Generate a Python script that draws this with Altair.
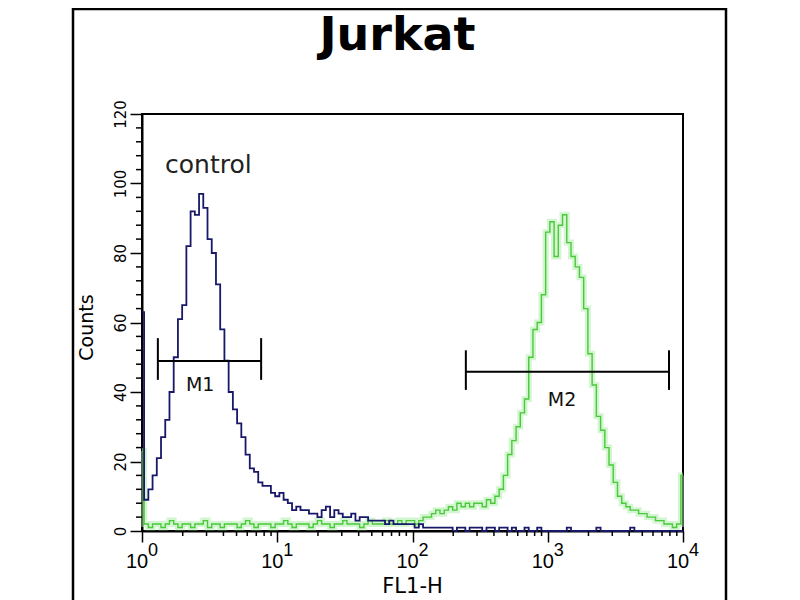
import numpy as np
import pandas as pd
import altair as alt

# FL1-H channels: 129 channels over four log decades (32 per decade)
channels = np.arange(129)
fl1_values = 10 ** (channels / 32)

control_counts = [
    63, 9, 12, 16, 21, 27, 32, 40, 50, 61,
    65, 82, 92, 91, 97, 93, 84, 80, 71, 58,
    49, 40, 35, 31, 27, 22, 18, 17, 14, 13,
    13, 11, 10, 11, 9, 8, 6, 7, 6, 6,
    5, 5, 4, 6, 7, 4, 6, 5, 4, 4,
    5, 3, 4, 4, 3, 3, 3, 3, 2, 3,
    2, 2, 2, 2, 2, 1, 2, 1, 1, 1,
    1, 1, 1, 1, 0, 1, 1, 0, 1, 1,
    1, 0, 1, 1, 0, 1, 1, 0, 1, 0,
    0, 1, 0, 0, 1, 0, 0, 0, 0, 0,
    0, 1, 0, 0, 0, 0, 0, 0, 1, 0,
    0, 0, 0, 0, 0, 0, 1, 0, 0, 0,
    0, 0, 0, 0, 0, 0, 0, 0, 0,
]

sample_counts = [
    23, 2, 1, 2, 2, 1, 2, 3, 2, 1,
    2, 2, 1, 2, 2, 3, 1, 2, 2, 1,
    2, 2, 2, 1, 2, 3, 2, 1, 2, 2,
    2, 1, 2, 2, 3, 2, 1, 2, 2, 2,
    1, 2, 3, 2, 2, 1, 2, 2, 3, 2,
    2, 2, 1, 2, 3, 2, 2, 2, 3, 2,
    2, 3, 2, 3, 3, 2, 3, 4, 4, 5,
    6, 5, 6, 7, 6, 8, 7, 8, 7, 8,
    8, 7, 9, 8, 10, 12, 16, 22, 26, 30,
    34, 38, 50, 58, 60, 68, 86, 89, 79, 88,
    91, 83, 79, 76, 73, 64, 51, 42, 33, 29,
    24, 19, 14, 10, 8, 7, 6, 6, 5, 5,
    4, 4, 3, 3, 2, 2, 1, 2, 16,
]

decades = [1, 10, 100, 1000, 10000]
decade_exponents = ['0', '1', '2', '3', '4']
x_minor_ticks = [m * d for d in decades[:-1] for m in range(2, 10)]
y_major_ticks = [0, 20, 40, 60, 80, 100, 120]
y_minor_ticks = [4, 8, 12, 16, 24, 28, 32, 36, 44, 48, 52, 56,
                 64, 68, 72, 76, 84, 88, 92, 96, 104, 108, 112, 116]

gate_names = ['M1', 'M2']
gate_lo = [1.31, 248]
gate_hi = [7.6, 7880]
gate_level = [48.9, 45.8]
gate_bar_lo = [43.5, 40.6]
gate_bar_hi = [55.5, 52.0]
gate_label_x = [2.69, 1275]
gate_label_y = [42.0, 37.7]

control_label = 'control'
control_label_x = 1.48
control_label_y = 103

hist = pd.DataFrame({'fl1': fl1_values, 'control': control_counts, 'sample': sample_counts})
gates = pd.DataFrame({'name': gate_names, 'lo': gate_lo, 'hi': gate_hi, 'level': gate_level,
                      'label_x': gate_label_x, 'label_y': gate_label_y})
gate_edges = pd.DataFrame({'fl1': gate_lo + gate_hi,
                           'bar_lo': gate_bar_lo + gate_bar_lo,
                           'bar_hi': gate_bar_hi + gate_bar_hi})
decade_df = pd.DataFrame({'fl1': decades, 'exp': decade_exponents})
x_minor_df = pd.DataFrame({'fl1': x_minor_ticks})
y_minor_df = pd.DataFrame({'count': y_minor_ticks})
label_df = pd.DataFrame({'cx': [control_label_x], 'cy': [control_label_y], 'text': [control_label]})
one = pd.DataFrame({'a': [0]})

FONT = 'DejaVu Sans'

x_scale = alt.Scale(type='log', domain=[1, 10000], nice=False)
y_scale = alt.Scale(domain=[0, 120], nice=False, zero=True)

x_axis = alt.Axis(
    values=decades, labels=False, tickSize=11, tickWidth=1.5, tickColor='black',
    domain=True, domainColor='black', domainWidth=2, grid=False,
    title='FL1-H', titleFont=FONT, titleFontSize=21,
    titleFontWeight='normal', titleColor='black', titleX=270, titleY=61,
    titleAlign='center', titleBaseline='alphabetic'
)
y_axis = alt.Axis(
    values=y_major_ticks, tickSize=12, tickWidth=1.5, tickColor='black',
    domain=True, domainColor='black', domainWidth=2, grid=False,
    labelAngle=270, labelAlign='center',
    labelBaseline='alphabetic', labelPadding=5, labelFlush=False,
    labelFont=FONT, labelFontSize=15, labelColor='black',
    title='Counts', titleFont=FONT, titleFontSize=19, titleFontWeight='normal',
    titleAngle=270, titleX=-50, titleY=213, titleAlign='center',
    titleBaseline='alphabetic', titleColor='black'
)


def x_enc(field):
    return alt.X(f'{field}:Q', scale=x_scale, axis=x_axis)


def y_enc(field):
    return alt.Y(f'{field}:Q', scale=y_scale, axis=y_axis)


# Outer figure frame and title
frame = alt.Chart(one).mark_rect(fill='white', fillOpacity=0, stroke='black', strokeWidth=2.5).encode(
    x=alt.value(-69), x2=alt.value(584), y=alt.value(-105), y2=alt.value(600)
)
title = alt.Chart(one).mark_text(
    text='Jurkat', font=FONT, fontSize=46, fontWeight='bold', align='center', baseline='alphabetic'
).encode(x=alt.value(255.5), y=alt.value(-64))

# Histograms
sample_glow = alt.Chart(hist).mark_line(
    interpolate='step', color='#a6eea0', strokeWidth=6, opacity=0.5
).encode(x=x_enc('fl1'), y=y_enc('sample'))
sample_line = alt.Chart(hist).mark_line(
    interpolate='step', color='#4cc83c', strokeWidth=1.4
).encode(x=x_enc('fl1'), y=y_enc('sample'))
control_line = alt.Chart(hist).mark_line(
    interpolate='step', color='#18186a', strokeWidth=1.8
).encode(x=x_enc('fl1'), y=y_enc('control'))

# Minor ticks
x_minor = alt.Chart(x_minor_df).mark_rule(color='black', strokeWidth=1.5).encode(
    x=x_enc('fl1'), y=alt.value(417), y2=alt.value(422)
)
y_minor = alt.Chart(y_minor_df).mark_rule(color='black', strokeWidth=1.5).encode(
    y=y_enc('count'), x=alt.value(-6), x2=alt.value(0)
)

# Decade tick labels 10^k
x_base = alt.Chart(decade_df).mark_text(
    text='10', font='Liberation Sans', fontSize=20, align='center', baseline='alphabetic', dx=-5
).encode(x=x_enc('fl1'), y=alt.value(454))
x_exp = alt.Chart(decade_df).mark_text(
    font='Liberation Sans', fontSize=18, align='left', baseline='alphabetic', dx=6
).encode(x=x_enc('fl1'), y=alt.value(442), text='exp:N')

# Gates M1 / M2
gate_rule = alt.Chart(gates).mark_rule(color='black', strokeWidth=2).encode(
    x=x_enc('lo'), x2='hi:Q', y=y_enc('level')
)
gate_ends = alt.Chart(gate_edges).mark_rule(color='black', strokeWidth=2).encode(
    x=x_enc('fl1'), y=y_enc('bar_lo'), y2='bar_hi:Q'
)
gate_text = alt.Chart(gates).mark_text(
    font=FONT, fontSize=19, align='center', baseline='middle', color='#111111'
).encode(x=x_enc('label_x'), y=y_enc('label_y'), text='name:N')

control_text = alt.Chart(label_df).mark_text(
    font=FONT, fontSize=25, align='left', baseline='alphabetic', color='#222222'
).encode(x=x_enc('cx'), y=y_enc('cy'), text='text:N')

chart = alt.layer(
    frame, title, sample_glow, sample_line, control_line, x_minor, y_minor,
    x_base, x_exp, gate_rule, gate_ends, gate_text, control_text
).properties(
    width=541, height=417,
    background='white',
    autosize=alt.AutoSizeParams(type='none'),
    padding={'left': 134, 'top': 106, 'right': 100, 'bottom': 70}
).configure_view(
    stroke='black', strokeWidth=2
)

chart.save('out.html', embed_options={'renderer': 'svg', 'actions': False})
